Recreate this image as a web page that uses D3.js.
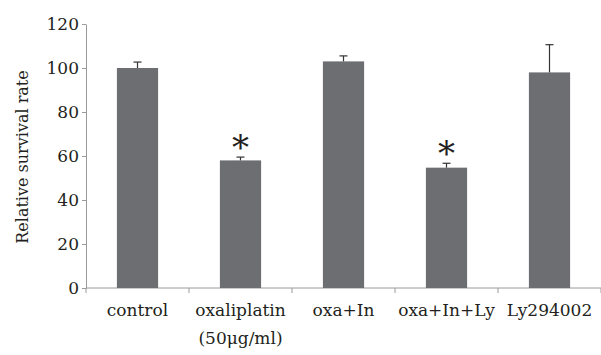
<!DOCTYPE html>
<html>
<head>
    <style>
        body { margin: 0; background: #fff; }
        text { font-family: "DejaVu Serif", serif; fill: #231f20; }
        .axis path, .axis line { stroke: #9a9a9a; }
    </style>
    <script src="https://d3js.org/d3.v7.min.js"></script>
</head>
<body>
    <svg width="601" height="355"></svg>
    <script>
        // data
        var categories = ["control", "oxaliplatin", "oxa+In", "oxa+In+Ly", "Ly294002"];
        var subLabels = ["", "(50\u03bcg/ml)", "", "", ""];
        var means = [100, 58, 103, 54.7, 98];
        var errors = [2.7, 1.5, 2.5, 2, 12.6];
        var significant = [false, true, false, true, false];
        var yTicks = [0, 20, 40, 60, 80, 100, 120];

        var svg = d3.select("svg");
        var margin = {left: 86, right: 0, top: 24, bottom: 67};
        var width = 601 - margin.left - margin.right,
            height = 355 - margin.top - margin.bottom;

        var g = svg.append("g")
            .attr("transform", "translate(" + margin.left + "," + margin.top + ")");

        var x = d3.scaleBand().domain(categories).range([0, width]);
        var y = d3.scaleLinear().domain([0, 120]).range([height, 0]);

        var barW = x.bandwidth() * 0.4;

        // y axis
        var yAxis = g.append("g").attr("class", "axis")
            .call(d3.axisLeft(y).tickValues(yTicks).tickSize(4).tickSizeOuter(0));
        yAxis.selectAll("text").attr("font-size", 17).attr("x", -7);

        // x axis: ticks at band edges
        var xAxis = g.append("g").attr("class", "axis")
            .attr("transform", "translate(0," + height + ")");
        xAxis.append("line").attr("x1", 0).attr("x2", width);
        xAxis.selectAll(".edge")
            .data(categories.concat([null]))
            .enter().append("line")
            .attr("class", "edge")
            .attr("x1", function(d, i) { return i * x.step(); })
            .attr("x2", function(d, i) { return i * x.step(); })
            .attr("y1", 0).attr("y2", 5);

        var lab = xAxis.selectAll(".lab")
            .data(categories)
            .enter().append("text")
            .attr("class", "lab")
            .attr("text-anchor", "middle")
            .attr("font-size", 17)
            .attr("x", function(d) { return x(d) + x.bandwidth() / 2; })
            .attr("y", 28);
        lab.append("tspan").text(function(d) { return d; });
        lab.append("tspan")
            .attr("x", function(d) { return x(d) + x.bandwidth() / 2; })
            .attr("dy", 28)
            .text(function(d, i) { return subLabels[i]; });

        // bars
        g.selectAll(".bar")
            .data(categories)
            .enter().append("rect")
            .attr("class", "bar")
            .attr("x", function(d) { return x(d) + (x.bandwidth() - barW) / 2; })
            .attr("width", barW)
            .attr("y", function(d, i) { return y(means[i]); })
            .attr("height", function(d, i) { return height - y(means[i]); })
            .attr("fill", "#6d6e71");

        // error bars (upper only)
        var err = g.selectAll(".err")
            .data(categories)
            .enter().append("g")
            .attr("class", "err")
            .attr("stroke", "#333")
            .attr("stroke-width", 1.2);
        err.append("line")
            .attr("x1", function(d) { return x(d) + x.bandwidth() / 2; })
            .attr("x2", function(d) { return x(d) + x.bandwidth() / 2; })
            .attr("y1", function(d, i) { return y(means[i]); })
            .attr("y2", function(d, i) { return y(means[i] + errors[i]); });
        err.append("line")
            .attr("x1", function(d) { return x(d) + x.bandwidth() / 2 - 4; })
            .attr("x2", function(d) { return x(d) + x.bandwidth() / 2 + 4; })
            .attr("y1", function(d, i) { return y(means[i] + errors[i]); })
            .attr("y2", function(d, i) { return y(means[i] + errors[i]); });

        // asterisks
        g.selectAll(".star")
            .data(categories.filter(function(d, i) { return significant[i]; }))
            .enter().append("text")
            .attr("class", "star")
            .attr("text-anchor", "middle")
            .attr("font-size", 34)
            .attr("fill", "#333")
            .attr("x", function(d) { return x(d) + x.bandwidth() / 2; })
            .attr("y", function(d) { var i = categories.indexOf(d); return y(means[i] + errors[i]) + 2; })
            .text("*");

        // y label
        svg.append("text")
            .attr("transform", "translate(28," + (margin.top + height / 2 + 1) + ") rotate(-90)")
            .attr("text-anchor", "middle")
            .attr("font-size", 16)
            .text("Relative survival rate");
    </script>
</body>
</html>
